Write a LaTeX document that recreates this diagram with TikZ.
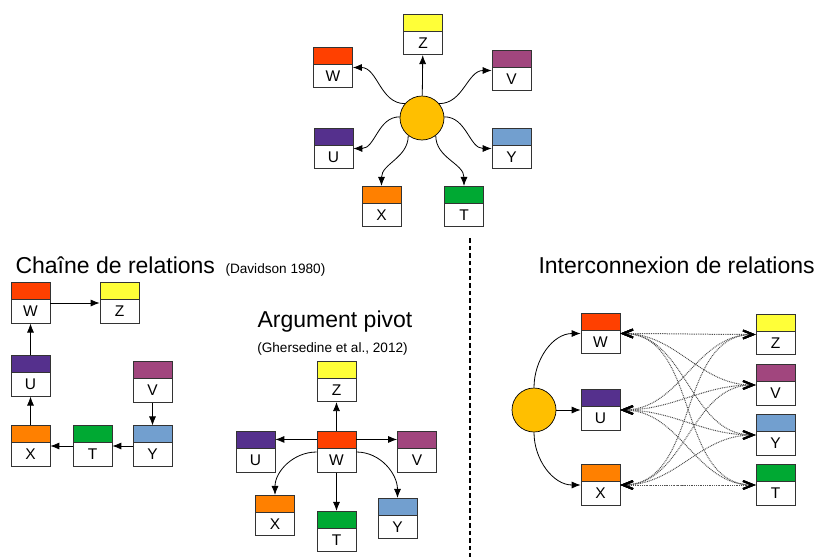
\documentclass[tikz,border=0pt]{standalone}
\usepackage{fontspec}
\setmainfont{Liberation Sans}
\usepackage{xcolor}
\usetikzlibrary{shapes.multipart,arrows.meta}

\definecolor{colW}{HTML}{FF4000}
\definecolor{colZ}{HTML}{FFFF38}
\definecolor{colV}{HTML}{A1467E}
\definecolor{colU}{HTML}{55308D}
\definecolor{colY}{HTML}{729FCF}
\definecolor{colX}{HTML}{FF8000}
\definecolor{colT}{HTML}{00A933}
\definecolor{colHub}{HTML}{FFBF00}

\newcommand{\argtxt}[1]{\rule{0pt}{16pt}\nodepart{two}\rule[-6pt]{0pt}{23pt}#1}

\begin{document}
\begin{tikzpicture}[x=1pt,y=1pt,
        arg/.style={rectangle split, rectangle split parts=2, draw=black!80, line width=0.7pt,
            inner sep=0pt, minimum width=39pt, rectangle split part fill={#1,white},
            font=\fontsize{15.5}{18}\selectfont},
        hub/.style={circle, draw, fill=colHub, line width=0.7pt, minimum size=44pt, inner sep=0pt},
        arr/.style={line width=0.8pt,-{Latex[length=9pt,width=7pt]}},
        link/.style={black!70, line width=1pt, dash pattern=on 0.9pt off 0.9pt,
            {Straight Barb[length=10pt,width=8pt,line width=2pt,color=black]}-{Straight Barb[length=10pt,width=8pt,line width=2pt,color=black]}},
        title/.style={font=\fontsize{23}{27}\selectfont, anchor=base},
        ref/.style={font=\fontsize{13.6}{16}\selectfont, anchor=base}]
            \useasboundingbox (0,0) rectangle (817,-557);

            \node[hub] (hub) at (422,-118) {};
            \node[arg=colZ] (z) at (423,-34.5) {\argtxt{Z}};
            \node[arg=colW] (w) at (333,-67.5) {\argtxt{W}};
            \node[arg=colV] (v) at (511.5,-70.5) {\argtxt{V}};
            \node[arg=colU] (u) at (333.5,-148.5) {\argtxt{U}};
            \node[arg=colY] (y) at (511.5,-148.5) {\argtxt{Y}};
            \node[arg=colX] (x) at (381.5,-206.5) {\argtxt{X}};
            \node[arg=colT] (t) at (464,-206.5) {\argtxt{T}};
            \draw[arr] (hub) -- (z);
            \draw[arr] (hub.140) to[out=180,in=0] (w.east);
            \draw[arr] (hub.40) to[out=0,in=180] (v.west);
            \draw[arr] (hub.177) to[out=180,in=0] (u.east);
            \draw[arr] (hub.3) to[out=0,in=180] (y.west);
            \draw[arr] (hub.-128) to[out=-90,in=90] (x.north);
            \draw[arr] (hub.-52) to[out=-90,in=90] (t.north);

            \node[title, anchor=base west] (chaintitle) at (12,-273) {Chaîne de relations};
            \node[ref, anchor=base west] (chainref) at (222,-273) {(Davidson 1980)};
            \node[arg=colW] (cw) at (30.5,-303) {\argtxt{W}};
            \node[arg=colZ] (cz) at (119.5,-303) {\argtxt{Z}};
            \node[arg=colU] (cu) at (30.5,-376) {\argtxt{U}};
            \node[arg=colV] (cv) at (152.5,-382) {\argtxt{V}};
            \node[arg=colX] (cx) at (30.5,-446) {\argtxt{X}};
            \node[arg=colT] (ct) at (92.5,-446) {\argtxt{T}};
            \node[arg=colY] (cy) at (152.5,-446) {\argtxt{Y}};
            \draw[arr] (cx) -- (cu);
            \draw[arr] (cu) -- (cw);
            \draw[arr] (cw) -- (cz);
            \draw[arr] (cv) -- (cy);
            \draw[arr] (cy) -- (ct);
            \draw[arr] (ct) -- (cx);

            \node[title] (pivottitle) at (335,-327) {Argument pivot};
            \node[ref] (pivotref) at (332.5,-352) {(Ghersedine et al., 2012)};
            \node[arg=colZ] (pz) at (336.5,-381.5) {\argtxt{Z}};
            \node[arg=colW] (pw) at (336.5,-452) {\argtxt{W}};
            \node[arg=colU] (pu) at (255.5,-452) {\argtxt{U}};
            \node[arg=colV] (pv) at (417,-452) {\argtxt{V}};
            \node[arg=colX] (px) at (275,-515.5) {\argtxt{X}};
            \node[arg=colT] (pt) at (336.5,-531.5) {\argtxt{T}};
            \node[arg=colY] (py) at (397.5,-518.5) {\argtxt{Y}};
            \draw[arr] (pw) -- (pz);
            \draw[arr] ([yshift=-8pt]pw.north west) -- ([yshift=-8pt]pu.north east);
            \draw[arr] ([yshift=-8pt]pw.north east) -- ([yshift=-8pt]pv.north west);
            \draw[arr] (pw) -- (pt);
            \draw[arr] (pw.west) to[out=180,in=90] (px.north);
            \draw[arr] (pw.east) to[out=0,in=90] (py.north);

            \draw[line width=2.5pt, dash pattern=on 4.5pt off 3pt] (470,-238) -- (470,-557);

            \node[title, anchor=base west] (intertitle) at (535,-273) {Interconnexion de relations};
            \node[hub] (ihub) at (534,-410) {};
            \node[arg=colW] (iw) at (600.5,-333.5) {\argtxt{W}};
            \node[arg=colU] (iu) at (600.5,-410) {\argtxt{U}};
            \node[arg=colX] (ix) at (600.5,-485) {\argtxt{X}};
            \node[arg=colZ] (iz) at (775.5,-334.5) {\argtxt{Z}};
            \node[arg=colV] (iv) at (775.5,-385) {\argtxt{V}};
            \node[arg=colY] (iy) at (775.5,-435) {\argtxt{Y}};
            \node[arg=colT] (it) at (775.5,-485) {\argtxt{T}};
            \draw[arr] (ihub.north) to[out=90,in=180] (iw.west);
            \draw[arr] (ihub) -- (iu);
            \draw[arr] (ihub.south) to[out=-90,in=180] (ix.west);
            \foreach \a in {iw,iu,ix}{
                \foreach \b in {iz,iv,iy,it}{
                    \draw[link] (\a.east) to[out=0,in=180] (\b.west);
                }
            }
        \end{tikzpicture}
\end{document}
